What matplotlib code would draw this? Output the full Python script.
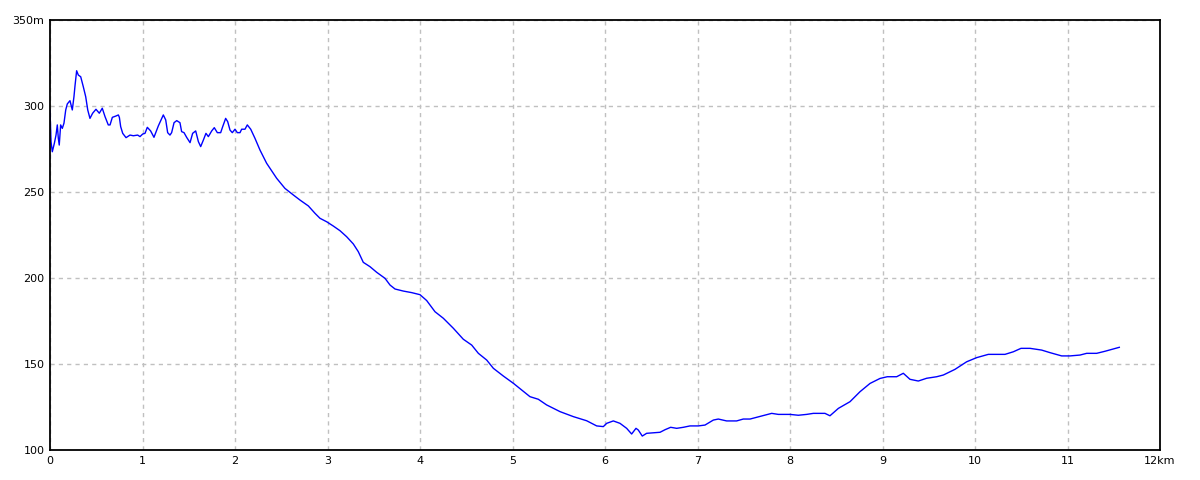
import matplotlib.pyplot as plt

# elevation profile (distance in km, elevation in m)
dist_km = [0.0, 0.011, 0.025, 0.047, 0.065, 0.079, 0.09, 0.1, 0.115, 0.133,
           0.151, 0.17, 0.187, 0.216, 0.241, 0.259, 0.27, 0.288, 0.306, 0.332,
           0.36, 0.386, 0.408, 0.432, 0.461, 0.497, 0.533, 0.565, 0.595, 0.63,
           0.649, 0.674, 0.714, 0.739, 0.75, 0.764, 0.786, 0.822, 0.865, 0.901,
           0.948, 0.973, 1.002, 1.027, 1.052, 1.088, 1.124, 1.171, 1.225, 1.251,
           1.272, 1.297, 1.315, 1.341, 1.37, 1.405, 1.423, 1.449, 1.477, 1.514,
           1.542, 1.575, 1.604, 1.629, 1.658, 1.686, 1.712, 1.748, 1.776, 1.809,
           1.845, 1.867, 1.899, 1.921, 1.946, 1.971, 2.0, 2.025, 2.054, 2.072,
           2.108, 2.133, 2.17, 2.216, 2.27, 2.342, 2.45, 2.54, 2.63, 2.703,
           2.793, 2.865, 2.919, 2.991, 3.063, 3.135, 3.207, 3.279, 3.333, 3.387,
           3.459, 3.532, 3.622, 3.676, 3.73, 3.82, 3.91, 4.0, 4.072, 4.162,
           4.252, 4.36, 4.468, 4.559, 4.631, 4.721, 4.793, 4.901, 5.009, 5.099,
           5.189, 5.279, 5.369, 5.514, 5.658, 5.802, 5.91, 5.982, 6.018, 6.09,
           6.162, 6.234, 6.288, 6.335, 6.36, 6.403, 6.45, 6.522, 6.595, 6.649,
           6.71, 6.775, 6.847, 6.919, 7.009, 7.081, 7.171, 7.225, 7.315, 7.423,
           7.495, 7.568, 7.639, 7.73, 7.802, 7.874, 8.0, 8.09, 8.18, 8.252,
           8.378, 8.432, 8.523, 8.649, 8.757, 8.865, 8.973, 9.052, 9.153, 9.225,
           9.297, 9.387, 9.477, 9.586, 9.658, 9.784, 9.91, 10.018, 10.144, 10.234,
           10.324, 10.414, 10.497, 10.595, 10.72, 10.811, 10.937, 11.027, 11.135, 11.207,
           11.315, 11.405, 11.495, 11.56]
elev_m = [297.7, 279.3, 273.4, 278.3, 283.1, 289.0, 281.2, 277.3, 289.0, 287.0,
          290.0, 297.7, 301.2, 303.1, 297.7, 305.4, 311.6, 320.5, 318.0, 317.0,
          311.2, 305.4, 297.7, 292.8, 295.8, 298.1, 295.8, 298.7, 293.8, 289.0,
          289.0, 293.4, 294.2, 294.8, 293.4, 288.0, 284.1, 281.6, 283.1, 282.7,
          283.1, 282.2, 283.7, 284.1, 287.6, 285.5, 281.8, 288.4, 294.8, 291.9,
          284.5, 283.1, 284.5, 290.3, 291.5, 290.3, 285.1, 284.5, 281.8, 278.7,
          284.1, 285.5, 279.3, 276.4, 280.2, 284.1, 282.2, 285.5, 287.4, 284.5,
          284.5, 288.0, 292.8, 290.9, 286.0, 284.5, 286.5, 284.5, 284.5, 286.5,
          286.5, 289.0, 286.5, 281.2, 274.4, 266.7, 258.0, 252.1, 248.3, 245.3,
          241.9, 237.6, 234.7, 232.7, 230.2, 227.5, 224.0, 219.8, 215.3, 209.1,
          206.6, 203.3, 199.8, 195.9, 193.6, 192.4, 191.5, 190.3, 186.9, 180.4,
          176.6, 170.8, 164.4, 161.0, 156.2, 152.3, 147.5, 143.0, 138.8, 134.9,
          131.0, 129.5, 126.2, 122.3, 119.4, 117.0, 114.0, 113.6, 115.5, 116.9,
          115.5, 112.6, 109.3, 112.6, 111.6, 108.1, 109.7, 110.0, 110.3, 111.8,
          113.2, 112.6, 113.2, 114.0, 114.0, 114.5, 117.4, 118.0, 116.9, 116.9,
          118.0, 118.0, 119.0, 120.3, 121.3, 120.7, 120.7, 120.2, 120.7, 121.3,
          121.3, 119.9, 124.2, 128.1, 133.9, 138.7, 141.6, 142.6, 142.6, 144.6,
          141.1, 140.1, 141.7, 142.6, 143.6, 146.9, 151.3, 153.7, 155.6, 155.6,
          155.6, 157.1, 159.1, 159.1, 158.1, 156.6, 154.7, 154.7, 155.2, 156.2,
          156.2, 157.4, 158.7, 159.7]

x_ticks = list(range(0, 13))
x_labels = [str(v) for v in range(0, 12)] + ['12km']
y_ticks = [100, 150, 200, 250, 300, 350]
y_labels = ['100', '150', '200', '250', '300', '350m']

fig = plt.figure(figsize=(12, 4.8), dpi=100)
ax = fig.add_axes([50 / 1200, 30 / 480, 1110 / 1200, 430 / 480])

ax.plot(dist_km, elev_m, color='#0000ff', linewidth=1.0)

ax.set_xlim(0, 12)
ax.set_ylim(100, 350)
ax.set_xticks(x_ticks)
ax.set_xticklabels(x_labels)
ax.set_yticks(y_ticks)
ax.set_yticklabels(y_labels)
ax.tick_params(length=0, labelsize=8, pad=4)
ax.grid(True, color='#c0c0c0', linestyle=(0, (3, 3)), linewidth=1)
ax.set_axisbelow(True)
for s in ax.spines.values():
    s.set_linewidth(1.3)
    s.set_color('black')

fig.savefig('out.png', dpi=100)
